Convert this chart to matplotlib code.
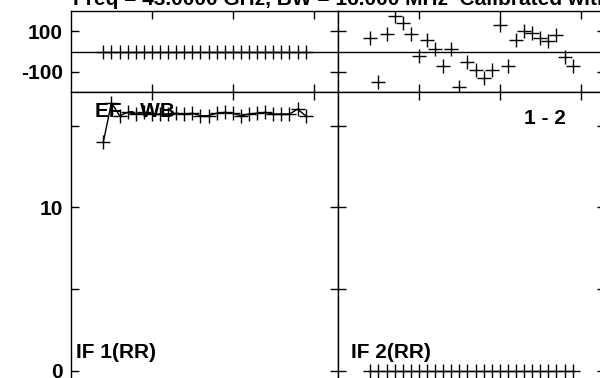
import matplotlib.pyplot as plt
import numpy as np
from matplotlib.ticker import FixedLocator, FixedFormatter

plt.rcParams['font.family'] = ['Liberation Sans', 'DejaVu Sans']
plt.rcParams['font.weight'] = 'bold'

# channel numbers shared by both IFs
channels = [4, 5, 6, 7, 8, 9, 10, 11, 12, 13, 14, 15, 16,
            17, 18, 19, 20, 21, 22, 23, 24, 25, 26, 27, 28, 29]

# IF 1 (EF - WB): phase in degrees, amplitude
if1_phase = [0, 0, 0, 0, 0, 0, 0, 0, 0, 0, 0, 0, 0,
             0, 0, 0, 0, 0, 0, 0, 0, 0, 0, 0, 0, 0]
if1_amp = [14.0, 16.4, 15.6, 15.8, 15.7, 15.8, 15.7, 15.7, 15.7, 15.75, 15.7, 15.75, 15.6,
           15.6, 15.75, 15.8, 15.75, 15.6, 15.7, 15.75, 15.8, 15.7, 15.7, 15.7, 16.0, 15.6]

# IF 2 (1 - 2)
if2_phase = [69, -152, 85, 177, 142, 87, -23, 58, 10, -74, 10, -176, -52,
             -92, -132, -89, 130, -74, 59, 103, 92, 66, 50, 80, -26, -70]
if2_amp = [0, 0, 0, 0, 0, 0, 0, 0, 0, 0, 0, 0, 0,
           0, 0, 0, 0, 0, 0, 0, 0, 0, 0, 0, 0, 0]

title = 'Freq = 43.0000 GHz, BW = 16.000 MHz  Calibrated with CL 2'
FS = 15

W, H = 600, 378
fig = plt.figure(figsize=(W / 100, H / 100), dpi=100)


def box(x0, y0, x1, y1):
    # pixel box (top-left origin) -> figure fraction rect
    return [x0 / W, 1 - y1 / H, (x1 - x0) / W, (y1 - y0) / H]


def style(ax, yticks, ylabels, show_labels):
    ax.set_xlim(0, 33)
    ax.xaxis.set_major_locator(FixedLocator([10, 20, 30]))
    ax.yaxis.set_major_locator(FixedLocator(yticks))
    ax.yaxis.set_major_formatter(FixedFormatter(ylabels if show_labels else [''] * len(yticks)))
    ax.tick_params(direction='in', length=6, width=1, top=True, right=True,
                   labelbottom=False, labelleft=show_labels, labelsize=FS, pad=6,
                   colors='black')
    for s in ax.spines.values():
        s.set_linewidth(1)


panels = [
    (71, 338, if1_phase, if1_amp, 'EF - WB', 'IF 1(RR)', True),
    (338, 605, if2_phase, if2_amp, '1 - 2', 'IF 2(RR)', False),
]

for x0, x1, ph, amp, base_lbl, if_lbl, first in panels:
    axp = fig.add_axes(box(x0, 11, x1, 92))
    axp.set_ylim(-200, 200)
    axp.axhline(0, color='black', lw=1)
    axp.plot(channels, ph, linestyle='none', marker='+', ms=10, mew=1, color='black')
    style(axp, [-100, 100], ['-100', '100'], first)

    axa = fig.add_axes(box(x0, 92, x1, 392))
    axa.set_ylim(-1.3, 17.05)
    if first:
        axa.plot(channels, amp, '-', lw=1, color='black', marker='+', ms=10, mew=1)
    else:
        axa.plot(channels, amp, linestyle='none', marker='+', ms=10, mew=1, color='black')
    style(axa, [0, 5, 10, 15], ['0', '', '10', ''], first)

    if first:
        axa.text(0.09, 0.935, base_lbl, transform=axa.transAxes, fontsize=FS,
                 fontweight='bold', va='center', ha='left')
    else:
        axa.text(0.855, 0.91, base_lbl, transform=axa.transAxes, fontsize=FS,
                 fontweight='bold', va='center', ha='right')
    axa.text(0.02 if first else 0.05, 0.133, if_lbl, transform=axa.transAxes,
             fontsize=FS, fontweight='bold', va='center', ha='left')

fig.text(73 / W, 1 - 5 / H, title, fontsize=FS, fontweight='bold',
         va='baseline', ha='left')

fig.savefig('out.png', dpi=100)
